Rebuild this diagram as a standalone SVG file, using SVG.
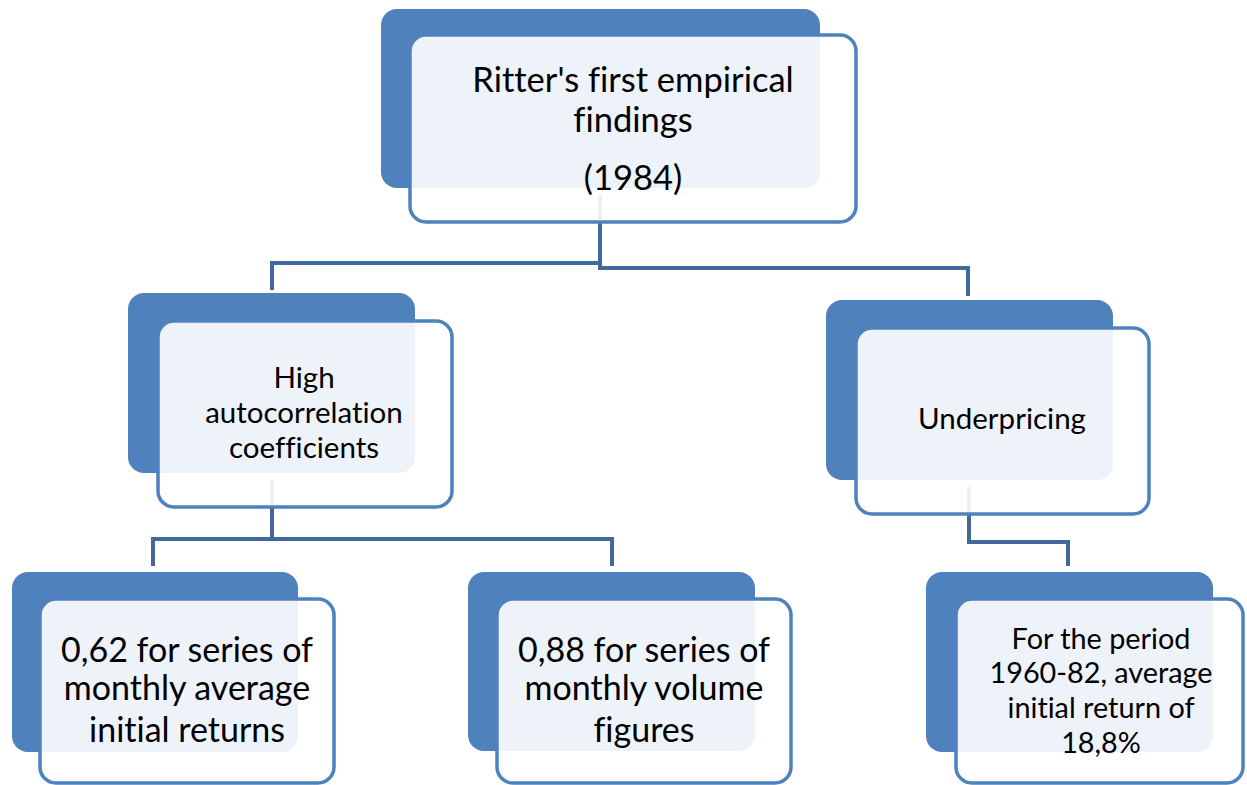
<svg xmlns="http://www.w3.org/2000/svg" width="1247" height="785" viewBox="0 0 1247 785">
<style>
.back{fill:#4F81BD;}
.front{fill:#ffffff;fill-opacity:0.9;stroke:#4F81BD;stroke-width:3.5;}
.conn{fill:none;stroke:#41699C;stroke-width:4;}
text{font-family:Lato,"Open Sans","Liberation Sans",sans-serif;fill:#000;text-anchor:middle;font-variant-ligatures:none;}
.t1{font-size:34.5px;}
.t2{font-size:29.5px;}
.t3{font-size:34px;}
.t4{font-size:28.8px;}
</style>
<rect width="1247" height="785" fill="#ffffff"/>
<g id="connectors">
<polyline class="conn" points="600,195 600,263 272,263 272,290"/>
<polyline class="conn" points="600,195 600,268 968,268 968,296"/>
<polyline class="conn" points="272,480 272,539 153,539 153,566"/>
<polyline class="conn" points="272,480 272,539 612,539 612,566"/>
<polyline class="conn" points="969,487 969,542 1068,542 1068,566"/>
</g>
<g id="node-root">
<rect class="back" x="381" y="9" width="439" height="179" rx="16"/>
<rect class="front" x="410" y="35" width="446" height="187" rx="16"/>
<text class="t1" x="633" y="92">Ritter's first empirical</text>
<text class="t1" x="633" y="132">findings</text>
<text class="t1" x="633" y="190">(1984)</text>
</g>
<g id="node-autocorr">
<rect class="back" x="128" y="293" width="287" height="180" rx="16"/>
<rect class="front" x="158" y="321" width="294" height="186" rx="16"/>
<text class="t2" x="304" y="388">High</text>
<text class="t2" x="304" y="423">autocorrelation</text>
<text class="t2" x="304" y="458">coefficients</text>
</g>
<g id="node-underpricing">
<rect class="back" x="826" y="300" width="287" height="180" rx="16"/>
<rect class="front" x="856" y="328" width="293" height="186" rx="16"/>
<text class="t2" x="1002" y="429">Underpricing</text>
</g>
<g id="node-062">
<rect class="back" x="12" y="572" width="286" height="180" rx="16"/>
<rect class="front" x="40" y="599" width="294" height="184" rx="16"/>
<text class="t3" x="187" y="662">0,62 for series of</text>
<text class="t3" x="187" y="700">monthly average</text>
<text class="t3" x="187" y="742">initial returns</text>
</g>
<g id="node-088">
<rect class="back" x="468" y="572" width="287" height="179" rx="16"/>
<rect class="front" x="497" y="599" width="294" height="184" rx="16"/>
<text class="t3" x="644" y="662">0,88 for series of</text>
<text class="t3" x="644" y="700">monthly volume</text>
<text class="t3" x="644" y="742">figures</text>
</g>
<g id="node-period">
<rect class="back" x="926" y="572" width="287" height="180" rx="16"/>
<rect class="front" x="956" y="599" width="287" height="184" rx="16"/>
<text class="t4" x="1101" y="649">For the period</text>
<text class="t4" x="1101" y="683">1960-82, average</text>
<text class="t4" x="1101" y="718">initial return of</text>
<text class="t4" x="1101" y="753">18,8%</text>
</g>
</svg>
